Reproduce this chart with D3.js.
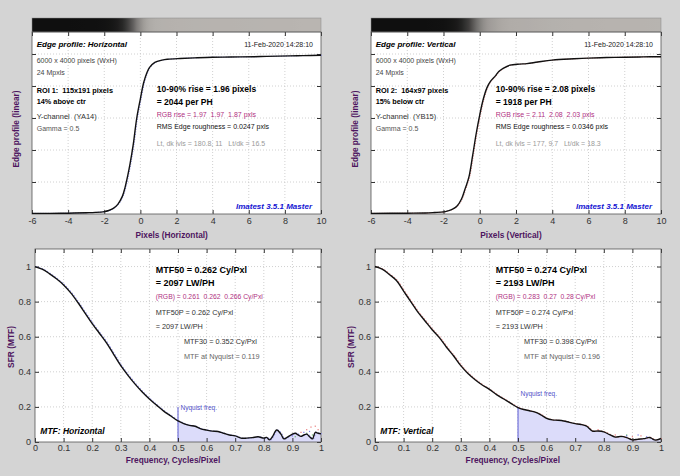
<!DOCTYPE html>
<html><head><meta charset="utf-8">
<script src="https://cdn.jsdelivr.net/npm/d3@7"></script>
<style>
body{margin:0;background:#d4d4d4;}
svg{display:block;font-family:"Liberation Sans",Arial,Helvetica,sans-serif;}
text{white-space:pre;}
</style>
</head><body>
<svg id="c" width="680" height="476"></svg>
<script>
// ---------------- DATA ----------------
// Edge profiles (pixels, normalized level)
const edgeXH = [-6,-5,-4,-3,-2.5,-2,-1.75,-1.5,-1.25,-1,-0.85,-0.7,-0.57,-0.4,-0.2,0,0.18,0.35,0.5,0.8,1.2,1.5,2.2,3,4,5,6.3,7,8.3,9,10];
const edgeVH = [0.004,0.004,0.005,0.008,0.01,0.015,0.022,0.035,0.06,0.11,0.165,0.24,0.315,0.43,0.6,0.72,0.82,0.88,0.915,0.948,0.962,0.967,0.972,0.976,0.98,0.981,0.983,0.985,0.988,0.99,0.992];
const edgeXV = [-6,-4,-3,-2.5,-2,-1.75,-1.5,-1.25,-1,-0.8,-0.6,-0.4,-0.2,0,0.2,0.4,0.6,0.84,1.05,1.29,1.67,2.2,2.6,3.2,4,5.2,6,7,8,9,10];
const edgeVV = [0.004,0.005,0.006,0.009,0.013,0.02,0.03,0.05,0.095,0.16,0.23,0.36,0.5,0.62,0.72,0.79,0.83,0.86,0.89,0.91,0.93,0.937,0.94,0.95,0.962,0.97,0.974,0.978,0.98,0.982,0.983];
const edgeXTicks = [-6,-4,-2,0,2,4,6,8,10];

// MTF curves (cycles/pixel, MTF)
const mtfFH = [0,0.025,0.05,0.075,0.1,0.125,0.15,0.175,0.2,0.225,0.25,0.275,0.3,0.325,0.35,0.375,0.4,0.425,0.45,0.475,0.5,0.52,0.54,0.56,0.58,0.6,0.62,0.64,0.66,0.68,0.7,0.72,0.74,0.76,0.78,0.8,0.81,0.82,0.83,0.845,0.86,0.87,0.88,0.89,0.9,0.91,0.92,0.93,0.94,0.95,0.96,0.97,0.98,0.99,1.0];
const mtfVH = [1,0.985,0.96,0.93,0.895,0.85,0.795,0.735,0.675,0.62,0.565,0.5,0.435,0.38,0.33,0.285,0.245,0.21,0.176,0.148,0.12,0.105,0.095,0.09,0.075,0.068,0.062,0.06,0.05,0.04,0.035,0.022,0.022,0.025,0.03,0.022,0.026,0.012,0.03,0.068,0.045,0.018,0.025,0.035,0.045,0.05,0.04,0.032,0.04,0.045,0.03,0.018,0.055,0.05,0.046];
const mtfFV = [0,0.025,0.05,0.075,0.1,0.125,0.15,0.175,0.2,0.225,0.25,0.275,0.3,0.325,0.35,0.375,0.4,0.425,0.45,0.475,0.5,0.52,0.54,0.56,0.58,0.6,0.62,0.64,0.66,0.68,0.7,0.72,0.74,0.76,0.78,0.8,0.82,0.84,0.86,0.88,0.9,0.92,0.94,0.96,0.97,0.98,1.0];
const mtfVV = [1,0.985,0.955,0.92,0.86,0.8,0.74,0.69,0.64,0.595,0.54,0.49,0.435,0.39,0.355,0.325,0.3,0.27,0.245,0.22,0.196,0.185,0.178,0.17,0.155,0.135,0.126,0.124,0.12,0.112,0.105,0.1,0.09,0.062,0.063,0.058,0.042,0.028,0.032,0.025,0.012,0.016,0.019,0.026,0.018,0.011,0.02];
const mtfXTicks = [0,0.1,0.2,0.3,0.4,0.5,0.6,0.7,0.8,0.9,1];
const mtfYTicks = [0,0.2,0.4,0.6,0.8,1];

// faint R/G/B channel dots near the noisy tail
const rgbH = {r:[[0.93,0.055],[0.95,0.07],[0.965,0.085],[0.98,0.09],[0.99,0.07]], g:[[0.91,0.03],[0.95,0.05],[0.97,0.04]], b:[[0.9,0.035],[0.92,0.045],[0.94,0.055],[0.96,0.06]]};
const rgbV = {r:[[0.84,0.04],[0.9,0.03],[0.93,0.035],[0.78,0.07]], g:[[0.86,0.03],[0.96,0.025],[0.88,0.04]], b:[[0.88,0.035],[0.92,0.04],[0.95,0.03]]};

const nyquist = 0.5;

// ---------------- DRAW ----------------
const svg = d3.select("#c");
svg.append("rect").attr("width",680).attr("height",476).attr("fill","#d4d4d4");
const defs = svg.append("defs");
const fmtNum = d => d===0||d===1 ? String(d) : (Number.isInteger(d) ? String(d) : d.toFixed(1));

function txt(g, x, y, s, o) {
  o = o || {};
  return g.append("text").attr("x",x).attr("y",y).text(s)
    .attr("font-size",o.size||7).attr("font-weight",o.weight||"normal")
    .attr("font-style",o.style||"normal").attr("fill",o.fill||"#000")
    .attr("text-anchor",o.anchor||"start");
}
function styleAxis(a, showText){
  a.select(".domain").remove();
  a.selectAll(".tick line").attr("stroke","#333");
  a.selectAll(".tick text").attr("fill","#333").attr("font-size",9)
   .attr("font-family","'Liberation Sans',Arial,sans-serif");
  if(!showText) a.selectAll(".tick text").remove();
}
const purple = "#4e1560";

function edgePanel(c){
  const top = 32, bot = 214, barTop = 18;
  const x = d3.scaleLinear([-6,10],[c.x0,c.x1]);
  const y = d3.scaleLinear([0,1.1375],[bot,top]);
  const g = svg.append("g");
  g.append("rect").attr("x",c.x0).attr("y",top).attr("width",c.x1-c.x0).attr("height",bot-top).attr("fill","#fff");
  // gradient bar built from the edge profile
  const gid = "grad"+c.id;
  const lg = defs.append("linearGradient").attr("id",gid).attr("gradientUnits","userSpaceOnUse")
    .attr("x1",c.x0).attr("x2",c.x1).attr("y1",0).attr("y2",0);
  const col = d3.interpolateRgb("#0d0d0d","#bab6b2");
  c.xs.forEach((xv,i)=>{
    lg.append("stop").attr("offset",(x(xv)-c.x0)/(c.x1-c.x0)).attr("stop-color",col(Math.pow(c.vs[i],0.85)));
  });
  g.append("rect").attr("x",c.x0).attr("y",barTop).attr("width",c.x1-c.x0).attr("height",top-barTop)
    .attr("fill","url(#"+gid+")").attr("stroke","#888").attr("stroke-width",0.5);
  // grid
  const yT = [0.2,0.4,0.6,0.8,1.0];
  g.selectAll(".gx").data(edgeXTicks.slice(1,-1)).join("line")
    .attr("x1",d=>x(d)).attr("x2",d=>x(d)).attr("y1",top).attr("y2",bot)
    .attr("stroke","#c4c4c4").attr("stroke-dasharray","1,2").attr("stroke-width",0.8);
  g.selectAll(".gy").data(yT).join("line")
    .attr("x1",c.x0).attr("x2",c.x1).attr("y1",d=>y(d)).attr("y2",d=>y(d))
    .attr("stroke","#c4c4c4").attr("stroke-dasharray","1,2").attr("stroke-width",0.8);
  // axes
  const ab = g.append("g").attr("transform",`translate(0,${bot})`)
    .call(d3.axisBottom(x).tickValues(edgeXTicks).tickFormat(d=>String(d)).tickSizeInner(-4).tickSizeOuter(0).tickPadding(4));
  styleAxis(ab,true);
  styleAxis(g.append("g").attr("transform",`translate(0,${top})`)
    .call(d3.axisTop(x).tickValues(edgeXTicks).tickSizeInner(-4).tickSizeOuter(0)),false);
  styleAxis(g.append("g").attr("transform",`translate(${c.x0},0)`)
    .call(d3.axisLeft(y).tickValues(yT).tickSizeInner(-4).tickSizeOuter(0)),false);
  styleAxis(g.append("g").attr("transform",`translate(${c.x1},0)`)
    .call(d3.axisRight(y).tickValues(yT).tickSizeInner(-4).tickSizeOuter(0)),false);
  g.append("rect").attr("x",c.x0).attr("y",top).attr("width",c.x1-c.x0).attr("height",bot-top)
    .attr("fill","none").attr("stroke","#555").attr("stroke-width",0.8);
  // curve
  const pts = c.xs.map((d,i)=>[d,c.vs[i]]);
  const line = d3.line().x(d=>x(d[0])).y(d=>y(d[1])).curve(d3.curveCatmullRom.alpha(0.5));
  g.append("path").attr("d",line(pts)).attr("fill","none").attr("stroke",c.shadow)
    .attr("stroke-width",1).attr("stroke-dasharray","1,1.5").attr("transform","translate(0.8,0)");
  g.append("path").attr("d",line(pts)).attr("fill","none").attr("stroke","#111").attr("stroke-width",1.4);
  // texts
  const L = c.x0+4.7, R = c.x0+124.7;
  txt(g,L,46.5,c.title,{size:8,weight:"bold",style:"italic"});
  txt(g,c.x1-8,46.5,"11-Feb-2020 14:28:10",{size:7,fill:"#222",anchor:"end"});
  txt(g,L,63,"6000 x 4000 pixels (WxH)",{size:7,fill:"#444"});
  txt(g,L,75,"24 Mpxls",{size:7,fill:"#444"});
  txt(g,L,92.5,c.roi,{size:7.3,weight:"bold"});
  txt(g,L,104,c.pos,{size:7.3,weight:"bold"});
  txt(g,L,119,c.chan,{size:7.5,fill:"#333"});
  txt(g,L,130.5,"Gamma = 0.5",{size:7,fill:"#555"});
  txt(g,R,92,c.rise,{size:8.5,weight:"bold"});
  txt(g,R,104.5,c.ph,{size:8.5,weight:"bold"});
  txt(g,R,116.5,c.rgb,{size:7,fill:"#b0307f"});
  txt(g,R,129,c.rms,{size:7,fill:"#111"});
  txt(g,R,145.5,c.lvls,{size:7,fill:"#9a9a9a"});
  txt(g,c.x1-9,209,"Imatest 3.5.1 Master",{size:8,weight:"bold",style:"italic",fill:"#1414d2",anchor:"end"});
  // axis labels
  txt(g,c.xlabX,237.5,c.xlab,{size:8.3,weight:"bold",fill:purple,anchor:"middle"});
  txt(g,0,0,"Edge profile (linear)",{size:8.2,weight:"bold",fill:purple,anchor:"middle"})
    .attr("transform",`translate(${c.x0-13},129) rotate(-90)`);
}

function mtfPanel(c){
  const top = 249, bot = 442;
  const x = d3.scaleLinear([0,1],[c.x0,c.x1]);
  const y = d3.scaleLinear([0,1.1],[bot,top]);
  const g = svg.append("g");
  g.append("rect").attr("x",c.x0).attr("y",top).attr("width",c.x1-c.x0).attr("height",bot-top).attr("fill","#fff");
  // grid
  g.selectAll(".gx").data(mtfXTicks.slice(1,-1)).join("line")
    .attr("x1",d=>x(d)).attr("x2",d=>x(d)).attr("y1",top).attr("y2",bot)
    .attr("stroke","#c4c4c4").attr("stroke-dasharray","1,2").attr("stroke-width",0.8);
  g.selectAll(".gy").data(mtfYTicks.slice(1)).join("line")
    .attr("x1",c.x0).attr("x2",c.x1).attr("y1",d=>y(d)).attr("y2",d=>y(d))
    .attr("stroke","#c4c4c4").attr("stroke-dasharray","1,2").attr("stroke-width",0.8);
  const pts = c.fs.map((d,i)=>[d,c.vs[i]]);
  // shaded area beyond Nyquist
  const area = d3.area().x(d=>x(d[0])).y0(y(0)).y1(d=>y(d[1])).curve(d3.curveCatmullRom.alpha(0.5));
  g.append("path").attr("d",area(pts.filter(d=>d[0]>=nyquist))).attr("fill","#dcdcfa");
  // Nyquist line
  g.append("line").attr("x1",x(nyquist)).attr("x2",x(nyquist)).attr("y1",y(0)).attr("y2",y(0.2))
    .attr("stroke","#5a5ad2").attr("stroke-width",1);
  txt(g,x(nyquist)+2.5,y(c.nyqLabel),"Nyquist freq.",{size:6.5,fill:"#5050c8"});
  // axes
  const ab = g.append("g").attr("transform",`translate(0,${bot})`)
    .call(d3.axisBottom(x).tickValues(mtfXTicks).tickFormat(fmtNum)
      .tickSizeInner(-4).tickSizeOuter(0).tickPadding(3));
  styleAxis(ab,true);
  styleAxis(g.append("g").attr("transform",`translate(0,${top})`)
    .call(d3.axisTop(x).tickValues(mtfXTicks).tickSizeInner(-4).tickSizeOuter(0)),false);
  const al = g.append("g").attr("transform",`translate(${c.x0},0)`)
    .call(d3.axisLeft(y).tickValues(mtfYTicks).tickFormat(fmtNum)
      .tickSizeInner(-4).tickSizeOuter(0).tickPadding(4));
  styleAxis(al,true);
  styleAxis(g.append("g").attr("transform",`translate(${c.x1},0)`)
    .call(d3.axisRight(y).tickValues(mtfYTicks).tickSizeInner(-4).tickSizeOuter(0)),false);
  g.append("rect").attr("x",c.x0).attr("y",top).attr("width",c.x1-c.x0).attr("height",bot-top)
    .attr("fill","none").attr("stroke","#555").attr("stroke-width",0.8);
  // RGB dots
  [["r","#e04040"],["g","#30a030"],["b","#4040e0"]].forEach(([k,colr])=>{
    g.selectAll(".d"+k).data(c.rgb[k]).join("rect")
      .attr("x",d=>x(d[0])-0.6).attr("y",d=>y(d[1])-0.6).attr("width",1.2).attr("height",1.2).attr("fill",colr).attr("opacity",0.7);
  });
  // curves
  const line = d3.line().x(d=>x(d[0])).y(d=>y(d[1])).curve(d3.curveCatmullRom.alpha(0.5));
  g.append("path").attr("d",line(pts)).attr("fill","none").attr("stroke",c.shadow)
    .attr("stroke-width",1.2).attr("stroke-dasharray","1.5,1.5").attr("transform","translate(1,0)");
  g.append("path").attr("d",line(pts)).attr("fill","none").attr("stroke","#111").attr("stroke-width",1.4);
  // texts
  const L = c.x0+120.7, L2 = c.x0+149;
  txt(g,L,272.5,c.m50,{size:9,weight:"bold"});
  txt(g,L,286,c.lw,{size:9,weight:"bold"});
  txt(g,L,298.5,c.rgbTxt,{size:6.8,fill:"#b0307f"});
  txt(g,L,314.5,c.m50p,{size:7.3,fill:"#333"});
  txt(g,L,328.5,c.lwp,{size:7.3,fill:"#333"});
  txt(g,L2,343.5,c.m30,{size:7.3,fill:"#333"});
  txt(g,L2,358.5,c.nyq,{size:7.3,fill:"#666"});
  txt(g,c.x0+5.3,434,c.title,{size:8.5,weight:"bold",style:"italic"});
  txt(g,c.xlabX,463,"Frequency, Cycles/Pixel",{size:8.3,weight:"bold",fill:purple,anchor:"middle"});
  txt(g,0,0,"SFR (MTF)",{size:8.4,weight:"bold",fill:purple,anchor:"middle"})
    .attr("transform",`translate(${c.x0-21},347) rotate(-90)`);
}

edgePanel({id:"L",x0:32,x1:321,xs:edgeXH,vs:edgeVH,shadow:"#8080e8",title:"Edge profile: Horizontal",
  roi:"ROI 1:  115x191 pixels",pos:"14% above ctr",chan:"Y-channel  (YA14)",
  rise:"10-90% rise = 1.96 pixels",ph:"= 2044 per PH",rgb:"RGB rise = 1.97  1.97  1.87 pxls",
  rms:"RMS Edge roughness = 0.0247 pxls",lvls:"Lt, dk lvls = 180.8, 11   Lt/dk = 16.5",
  xlab:"Pixels (Horizontal)",xlabX:171.7});
edgePanel({id:"R",x0:371,x1:661,xs:edgeXV,vs:edgeVV,shadow:"#e88080",title:"Edge profile: Vertical",
  roi:"ROI 2:  164x97 pixels",pos:"15% below ctr",chan:"Y-channel  (YB15)",
  rise:"10-90% rise = 2.08 pixels",ph:"= 1918 per PH",rgb:"RGB rise = 2.11  2.08  2.03 pxls",
  rms:"RMS Edge roughness = 0.0346 pxls",lvls:"Lt, dk lvls = 177, 9.7   Lt/dk = 18.3",
  xlab:"Pixels (Vertical)",xlabX:511});
mtfPanel({x0:35,x1:321,fs:mtfFH,vs:mtfVH,rgb:rgbH,shadow:"#9a9af0",nyqLabel:0.183,
  m50:"MTF50 = 0.262 Cy/Pxl",lw:"= 2097 LW/PH",rgbTxt:"(RGB) = 0.261  0.262  0.266 Cy/Pxl",
  m50p:"MTF50P = 0.262 Cy/Pxl",lwp:"= 2097 LW/PH",m30:"MTF30 = 0.352 Cy/Pxl",nyq:"MTF at Nyquist = 0.119",
  title:"MTF: Horizontal",xlabX:173});
mtfPanel({x0:375,x1:661,fs:mtfFV,vs:mtfVV,rgb:rgbV,shadow:"#f09a9a",nyqLabel:0.263,
  m50:"MTF50 = 0.274 Cy/Pxl",lw:"= 2193 LW/PH",rgbTxt:"(RGB) = 0.283  0.27  0.28 Cy/Pxl",
  m50p:"MTF50P = 0.274 Cy/Pxl",lwp:"= 2193 LW/PH",m30:"MTF30 = 0.398 Cy/Pxl",nyq:"MTF at Nyquist = 0.196",
  title:"MTF: Vertical",xlabX:512.8});
</script>
</body></html>
